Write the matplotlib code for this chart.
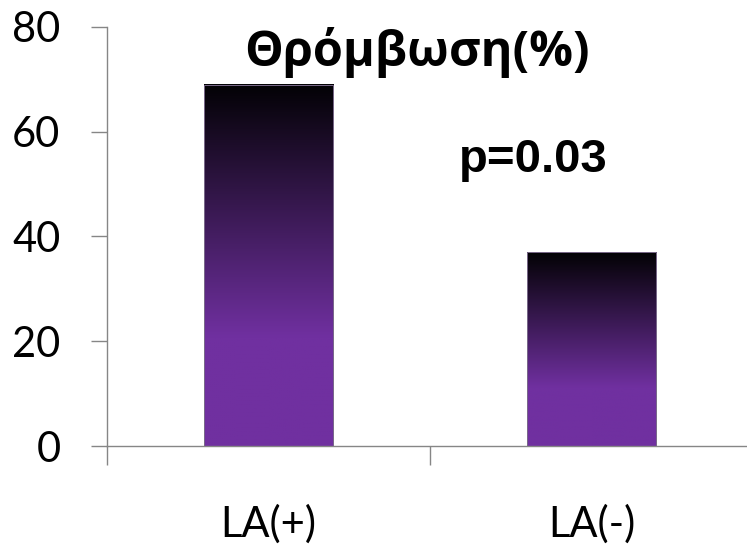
import matplotlib
matplotlib.use("Agg")
import matplotlib.pyplot as plt
import numpy as np
from matplotlib.colors import LinearSegmentedColormap

categories = ["LA(+)", "LA(-)"]
values = [69, 37]
title_text = "Θρόμβωση(%)"
p_text = "p=0.03"
y_ticks = [0, 20, 40, 60, 80]

fig = plt.figure(figsize=(7.47, 5.47), dpi=100)
ax = fig.add_axes([107 / 747, 101 / 547, 646 / 747, 419 / 547])

axis_gray = "#868686"
positions = np.arange(len(categories)) + 0.5
bars = ax.bar(positions, values, width=0.4, color="none", edgecolor="none", zorder=2)

# vertical gradient: black at top fading to purple, solid purple lower down
cmap = LinearSegmentedColormap.from_list(
    "purple_fade", [(0.0, "#7030A0"), (0.3, "#7030A0"), (1.0, "#030205")]
)
grad = np.linspace(0, 1, 256).reshape(-1, 1)
for b in bars:
    x0, w, h = b.get_x(), b.get_width(), b.get_height()
    ax.imshow(grad, cmap=cmap, origin="lower", aspect="auto",
              extent=(x0, x0 + w, 0, h), zorder=2, interpolation="bilinear")
    ax.add_patch(plt.Rectangle((x0, 0), w, h, fill=False,
                               edgecolor="#7a6a8a", linewidth=0.7, zorder=3))

ax.set_xlim(0, len(categories))
ax.set_ylim(0, 80)

for s in ["top", "right"]:
    ax.spines[s].set_visible(False)
for s in ["left", "bottom"]:
    ax.spines[s].set_color(axis_gray)
    ax.spines[s].set_linewidth(1.0)

ax.set_yticks(y_ticks)
ax.set_yticklabels([str(t) for t in y_ticks], fontfamily="Lato", fontsize=30)
ax.tick_params(axis="y", direction="out", length=11.5, width=1.0,
               color=axis_gray, pad=22)

ax.set_xticks(np.arange(len(categories) + 1))
ax.set_xticklabels([])
ax.tick_params(axis="x", which="major", direction="out", length=14, width=1.0,
               color=axis_gray)
ax.set_xticks(positions, minor=True)
ax.set_xticklabels(categories, minor=True, fontfamily="Lato", fontsize=30)
ax.tick_params(axis="x", which="minor", length=0, pad=42)

fig.text(417 / 747, 1 - 52 / 547, title_text, ha="center", va="center",
         fontsize=35, fontweight="bold", fontfamily=["Open Sans", "DejaVu Sans"])
fig.text(533 / 747, 1 - 160 / 547, p_text, ha="center", va="center",
         fontsize=34, fontweight="bold", fontfamily="Liberation Sans")

fig.savefig("out.png", dpi=100)
